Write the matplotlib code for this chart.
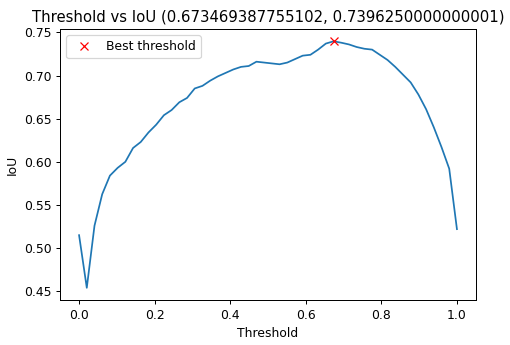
import numpy as np
import matplotlib
matplotlib.use("Agg")
import matplotlib.pyplot as plt

# valores (50 limiares entre 0 e 1)
thresholds = np.linspace(0, 1, 50)
iou = [0.515, 0.454, 0.526, 0.5625, 0.584, 0.593, 0.600, 0.616, 0.623, 0.634,
       0.643, 0.654, 0.660, 0.669, 0.674, 0.685, 0.688, 0.694, 0.699, 0.703,
       0.707, 0.710, 0.711, 0.716, 0.715, 0.714, 0.713, 0.715, 0.719, 0.723,
       0.724, 0.730, 0.737, 0.739625, 0.738, 0.736, 0.733, 0.731, 0.730, 0.724,
       0.718, 0.710, 0.701, 0.692, 0.678, 0.661, 0.640, 0.617, 0.592, 0.522]

best_idx = int(np.argmax(iou))
best_t, best_iou = thresholds[best_idx], iou[best_idx]

fig, ax = plt.subplots(figsize=(510 / 89, 345 / 89), dpi=89)
fig.subplots_adjust(left=0.118, right=0.933, bottom=0.130, top=0.916)
ax.plot(thresholds, iou, lw=1.4)
ax.plot(best_t, best_iou, "xr", label="Best threshold")
ax.set_xlabel("Threshold")
ax.set_ylabel("IoU")
ax.set_title(f"Threshold vs IoU ({best_t}, {0.7396250000000001})")
ax.legend(loc="upper left")

fig.savefig("out.png")
